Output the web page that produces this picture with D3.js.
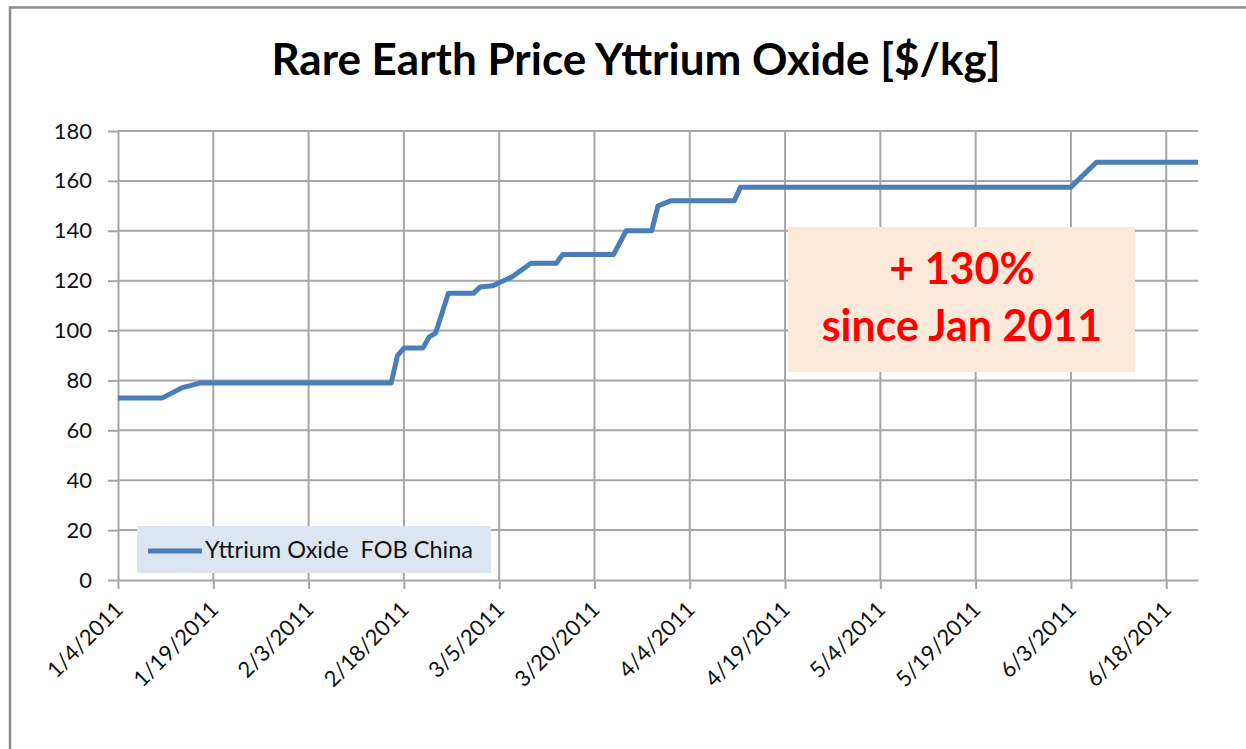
<!DOCTYPE html>
<html lang="en">
<head>
<meta charset="utf-8">
<title>Rare Earth Price Yttrium Oxide</title>
<script src="https://cdn.jsdelivr.net/npm/d3@7"></script>
<style>
  body { margin: 0; background: #fff; }
  svg { display: block; font-family: Lato, "Open Sans", sans-serif; }
</style>
</head>
<body>
<div id="chart"></div>
<script>
// data (breakpoints of the price line)
const dates = ["2011-01-04", "2011-01-11", "2011-01-14", "2011-01-17", "2011-02-16", "2011-02-17",
  "2011-02-18", "2011-02-21", "2011-02-22", "2011-02-23", "2011-02-25", "2011-03-01", "2011-03-02",
  "2011-03-04", "2011-03-07", "2011-03-10", "2011-03-14", "2011-03-15", "2011-03-23", "2011-03-25",
  "2011-03-29", "2011-03-30", "2011-04-01", "2011-04-11", "2011-04-12", "2011-06-03", "2011-06-07",
  "2011-06-23"];
const prices = [73, 73, 77, 79, 79, 90,
  93, 93, 97.5, 99, 115, 115, 117.5,
  118, 121.5, 127, 127, 130.5, 130.5, 140,
  140, 150, 152, 152, 157.5, 157.5, 167.5,
  167.5];
const yTicks = [0, 20, 40, 60, 80, 100, 120, 140, 160, 180];
const xTickDates = ["2011-01-04", "2011-01-19", "2011-02-03", "2011-02-18", "2011-03-05", "2011-03-20",
  "2011-04-04", "2011-04-19", "2011-05-04", "2011-05-19", "2011-06-03", "2011-06-18"];
const seriesName = "Yttrium Oxide  FOB China";
const title = "Rare Earth Price Yttrium Oxide [$/kg]";
const note = ["+ 130%", "since Jan 2011"];

const width = 1246, height = 749;
const margin = {top: 131, right: 48, bottom: 169, left: 118};
const parse = d3.utcParse("%Y-%m-%d");
const fmt = d3.utcFormat("%-m/%-d/%Y");
const data = dates.map((d, i) => ({date: parse(d), value: prices[i]}));

const x = d3.scaleUtc()
    .domain([parse("2011-01-04"), parse("2011-06-23")])
    .range([margin.left, width - margin.right]);
const y = d3.scaleLinear()
    .domain([0, 180])
    .range([height - margin.bottom, margin.top]);

const svg = d3.select("#chart").append("svg")
    .attr("width", width)
    .attr("height", height);

// chart frame
svg.append("path")
    .attr("d", `M10,${height}V7.5H${width}`)
    .attr("fill", "none")
    .attr("stroke", "#8c8c8c")
    .attr("stroke-width", 2.5);

svg.append("text")
    .attr("x", 636)
    .attr("y", 75)
    .attr("text-anchor", "middle")
    .attr("font-size", 44)
    .attr("font-weight", "bold")
    .attr("fill", "#000")
    .text(title);

// gridlines
svg.append("g")
    .attr("stroke", "#a6a6a6")
    .attr("stroke-width", 2)
  .selectAll("line")
  .data(yTicks.filter(d => d > 0))
  .join("line")
    .attr("x1", margin.left)
    .attr("x2", width - margin.right)
    .attr("y1", d => y(d))
    .attr("y2", d => y(d));

svg.append("g")
    .attr("stroke", "#a6a6a6")
    .attr("stroke-width", 2)
  .selectAll("line")
  .data(xTickDates.slice(1).map(parse))
  .join("line")
    .attr("x1", d => x(d))
    .attr("x2", d => x(d))
    .attr("y1", y(0))
    .attr("y2", y(180));

// axes
const yAxis = svg.append("g")
    .attr("transform", `translate(${margin.left},0)`)
    .call(d3.axisLeft(y).tickValues(yTicks).tickSize(10).tickPadding(16).tickSizeOuter(0));
const xAxis = svg.append("g")
    .attr("transform", `translate(0,${y(0)})`)
    .call(d3.axisBottom(x).tickValues(xTickDates.map(parse)).tickFormat(fmt).tickSize(9).tickSizeOuter(0));

[yAxis, xAxis].forEach(g => {
  g.selectAll(".domain, line").attr("stroke", "#a6a6a6").attr("stroke-width", 2);
  g.selectAll("text").attr("font-size", 22).attr("fill", "#111").attr("font-family", "Lato, sans-serif");
});
xAxis.selectAll("text")
    .attr("text-anchor", "end")
    .attr("transform", "translate(6,31) rotate(-45)")
    .attr("dy", 0)
    .attr("y", 0);

// annotation box
const noteBox = svg.append("g");
noteBox.append("rect")
    .attr("x", 788).attr("y", 227)
    .attr("width", 347).attr("height", 145)
    .attr("fill", "#fde9d9");
noteBox.selectAll("text")
  .data(note)
  .join("text")
    .attr("x", 962)
    .attr("y", (d, i) => 284 + i * 57)
    .attr("text-anchor", "middle")
    .attr("font-size", 43)
    .attr("font-weight", "bold")
    .attr("fill", "#ff0000")
    .text(d => d);

// price line
svg.append("path")
    .datum(data)
    .attr("fill", "none")
    .attr("stroke", "#4a7ebb")
    .attr("stroke-width", 5)
    .attr("stroke-linejoin", "round")
    .attr("d", d3.line().x(d => x(d.date)).y(d => y(d.value)));

// legend
const legend = svg.append("g");
legend.append("rect")
    .attr("x", 137).attr("y", 526)
    .attr("width", 354).attr("height", 47)
    .attr("fill", "#dce6f2");
legend.append("line")
    .attr("x1", 148).attr("x2", 202)
    .attr("y1", 551).attr("y2", 551)
    .attr("stroke", "#4a7ebb")
    .attr("stroke-width", 5);
legend.append("text")
    .attr("x", 205).attr("y", 558)
    .attr("font-size", 23.5)
    .attr("fill", "#111")
    .style("white-space", "pre")
    .text(seriesName);
</script>
</body>
</html>
